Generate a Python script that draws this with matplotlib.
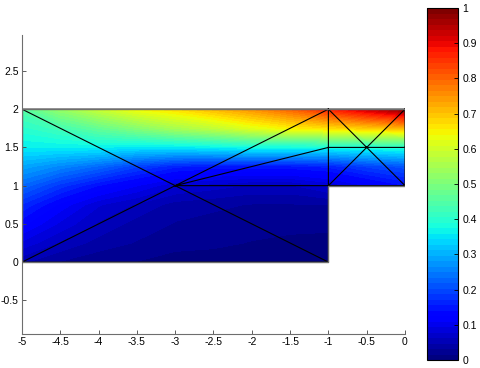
import numpy as np
import matplotlib.pyplot as plt
import matplotlib.tri as mtri
from matplotlib.cm import ScalarMappable
from matplotlib.colors import Normalize
from matplotlib.patches import Polygon

plt.rcParams['font.family'] = ['Liberation Sans', 'DejaVu Sans']
plt.rcParams['font.size'] = 7.5

# field values on a coarse grid (nan = outside domain)
x_nodes = [-5, -4.5, -4, -3.5, -3, -2.5, -2, -1.5, -1, -0.5, 0]
y_nodes = [0, 0.25, 0.5, 0.75, 1, 1.25, 1.5, 1.75, 2]
nan = np.nan
u_rows = [
    [0.05, 0.03, 0.02, 0.015, 0.01, 0.01, 0.008, 0.005, 0.0, nan, nan],
    [0.09, 0.06, 0.04, 0.03, 0.02, 0.018, 0.015, 0.012, 0.01, nan, nan],
    [0.13, 0.09, 0.06, 0.04, 0.03, 0.025, 0.02, 0.02, 0.02, nan, nan],
    [0.17, 0.12, 0.08, 0.06, 0.04, 0.035, 0.03, 0.03, 0.03, nan, nan],
    [0.23, 0.18, 0.14, 0.11, 0.08, 0.07, 0.06, 0.06, 0.08, 0.11, 0.14],
    [0.29, 0.26, 0.23, 0.19, 0.16, 0.15, 0.15, 0.15, 0.16, 0.19, 0.21],
    [0.36, 0.36, 0.36, 0.35, 0.35, 0.36, 0.37, 0.37, 0.37, 0.38, 0.39],
    [0.40, 0.43, 0.47, 0.51, 0.55, 0.58, 0.62, 0.65, 0.67, 0.69, 0.71],
    [0.45, 0.53, 0.59, 0.64, 0.67, 0.71, 0.75, 0.80, 0.87, 0.93, 0.99],
]

# mesh nodes and triangles
mesh_x = [-5, -5, -3, -1, -1, -1, -1, 0, 0, 0, -0.5]
mesh_y = [0, 2, 1, 0, 1, 1.5, 2, 1, 1.5, 2, 1.5]
mesh_tri = [[0, 1, 2], [1, 6, 2], [0, 2, 3], [2, 4, 3], [2, 5, 4], [2, 6, 5],
            [4, 7, 10], [7, 8, 10], [8, 9, 10], [9, 6, 10], [6, 5, 10], [5, 4, 10]]
boundary_x = [-5, -1, -1, 0, 0, -5, -5]
boundary_y = [0, 0, 1, 1, 2, 2, 0]

cmap = plt.get_cmap('jet', 64)

fig = plt.figure(figsize=(4.81, 3.68), dpi=100)
ax = fig.add_axes([22/481, 34/368, 383/481, 299/368])

U = np.ma.masked_invalid(np.array(u_rows))
cs = ax.contourf(x_nodes, y_nodes, U, levels=np.linspace(0, 1, 65), cmap=cmap,
                 vmin=0, vmax=1, antialiased=False)
domain = Polygon(np.column_stack([boundary_x, boundary_y]), closed=True,
                 transform=ax.transData, facecolor='none', edgecolor='none')
ax.add_patch(domain)
cs.set_clip_path(domain)

tri = mtri.Triangulation(mesh_x, mesh_y, mesh_tri)
ax.triplot(tri, color='black', lw=0.8)
ax.plot(boundary_x, boundary_y, color='#6e6e6e', lw=1.0)

ax.set_xlim(-5, 0)
ax.set_ylim(-0.94, 2.97)
ax.set_xticks(np.arange(-5, 0.01, 0.5))
ax.set_xticklabels(['-5', '-4.5', '-4', '-3.5', '-3', '-2.5', '-2', '-1.5', '-1', '-0.5', '0'])
ax.set_yticks([-0.5, 0, 0.5, 1, 1.5, 2, 2.5])
ax.set_yticklabels(['-0.5', '0', '0.5', '1', '1.5', '2', '2.5'])
ax.tick_params(direction='in', length=3, width=0.6, color='#444444', pad=2.5)
for side in ['top', 'right']:
    ax.spines[side].set_visible(False)
for side in ['left', 'bottom']:
    ax.spines[side].set_color('#6e6e6e')
    ax.spines[side].set_linewidth(0.8)

cax = fig.add_axes([427/481, 8/368, 31/481, 352/368])
sm = ScalarMappable(norm=Normalize(0, 1), cmap=cmap)
cb = fig.colorbar(sm, cax=cax)
cb.set_ticks(np.linspace(0, 1, 11))
cb.set_ticklabels(['0', '0.1', '0.2', '0.3', '0.4', '0.5', '0.6', '0.7', '0.8', '0.9', '1'])
cb.outline.set_linewidth(0.8)
cax.tick_params(direction='in', length=3, width=0.6, pad=3)

fig.savefig('out.png', dpi=100)
